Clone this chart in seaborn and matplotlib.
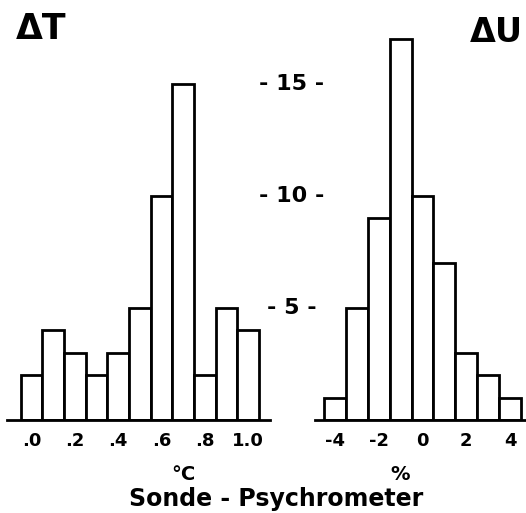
import matplotlib
matplotlib.use("Agg")
import matplotlib.pyplot as plt
import matplotlib.transforms as mtransforms
import seaborn as sns

# histogram counts, Sonde - Psychrometer differences
dt_centers = [0.0, 0.1, 0.2, 0.3, 0.4, 0.5, 0.6, 0.7, 0.8, 0.9, 1.0]
dt_counts = [2, 4, 3, 2, 3, 5, 10, 15, 2, 5, 4]
dt_ticks = [0.0, 0.2, 0.4, 0.6, 0.8, 1.0]
dt_ticklabels = [".0", ".2", ".4", ".6", ".8", "1.0"]

du_centers = [-4, -3, -2, -1, 0, 1, 2, 3, 4]
du_counts = [1, 5, 9, 17, 10, 7, 3, 2, 1]
du_ticks = [-4, -2, 0, 2, 4]
du_ticklabels = ["-4", "-2", "0", "2", "4"]

count_ticks = [5, 10, 15]

sns.set_style("white")
plt.rcParams["font.family"] = ["DejaVu Sans"]
plt.rcParams["font.weight"] = "bold"
plt.rcParams["text.color"] = "black"
plt.rcParams["axes.labelcolor"] = "black"
plt.rcParams["xtick.color"] = "black"

W, H = 526, 513
fig = plt.figure(figsize=(W / 100, H / 100), dpi=100)


def px_axes(x0, x1, y_top, y_base):
    ax = fig.add_axes([x0 / W, 1 - y_base / H, (x1 - x0) / W, (y_base - y_top) / H])
    ax.patch.set_alpha(0)
    return ax


ax_t = px_axes(7, 270, 28, 420)
ax_u = px_axes(315, 525, 28, 420)


def draw_hist(ax, centers, counts, xlim, ticks, ticklabels):
    sns.barplot(x=centers, y=counts, native_scale=True, width=1.0,
                color="white", edgecolor="black", linewidth=2.0,
                saturation=1, ax=ax)
    ax.set_xlim(*xlim)
    ax.set_ylim(0, 17.5)
    for s in ["top", "left", "right"]:
        ax.spines[s].set_visible(False)
    ax.spines["bottom"].set_linewidth(2.0)
    ax.spines["bottom"].set_color("black")
    ax.set_yticks([])
    ax.set_xticks(ticks)
    ax.set_xticklabels(ticklabels, fontsize=13, fontweight="bold")
    ax.tick_params(axis="x", length=0, pad=9, labelcolor="black")


draw_hist(ax_t, dt_centers, dt_counts, (-0.113, 1.101), dt_ticks, dt_ticklabels)
draw_hist(ax_u, du_centers, du_counts, (-4.91, 4.68), du_ticks, du_ticklabels)

ax_t.set_xlabel("°C", fontsize=14, fontweight="bold")
ax_t.xaxis.set_label_coords(0.67, -0.115)
ax_u.set_xlabel("%", fontsize=14, fontweight="bold")
ax_u.xaxis.set_label_coords(0.405, -0.115)

# shared count scale between the two panels
trans = mtransforms.blended_transform_factory(fig.transFigure, ax_t.transData)
for v in count_ticks:
    ax_t.text(292 / W, v, f"- {v} -", transform=trans, ha="center", va="center",
              fontsize=16, fontweight="bold", clip_on=False, zorder=10)

fig.text(41 / W, 1 - 29 / H, "ΔT", ha="center", va="center", fontsize=25, fontweight="bold")
fig.text(496 / W, 1 - 32 / H, "ΔU", ha="center", va="center", fontsize=24, fontweight="bold")
fig.text(276 / W, 1 - 499 / H, "Sonde - Psychrometer", ha="center", va="center",
         fontsize=17, fontweight="bold")

fig.savefig("out.png", dpi=100, facecolor="white")
